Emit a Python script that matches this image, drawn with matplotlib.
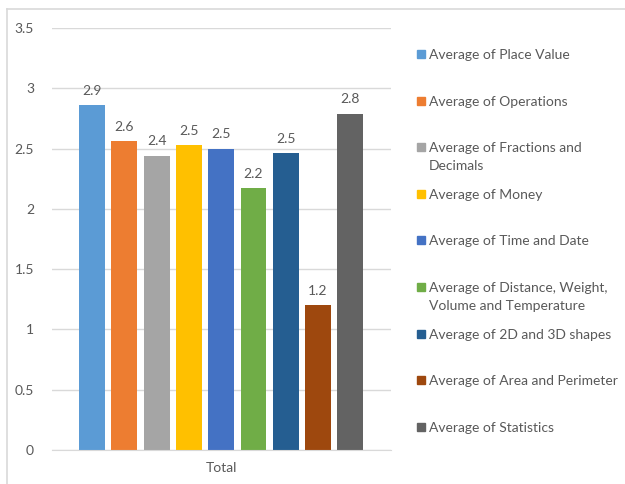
import matplotlib.pyplot as plt
from matplotlib.patches import Rectangle
from matplotlib.lines import Line2D

# values (one cluster, "Total")
series = ["Average of Place Value", "Average of Operations",
          "Average of Fractions and\nDecimals", "Average of Money",
          "Average of Time and Date",
          "Average of Distance, Weight,\nVolume and Temperature",
          "Average of 2D and 3D shapes", "Average of Area and Perimeter",
          "Average of Statistics"]
values = [2.86, 2.56, 2.44, 2.53, 2.50, 2.17, 2.46, 1.20, 2.79]
colors = ["#5b9bd5", "#ed7d31", "#a5a5a5", "#ffc000", "#4472c4",
          "#70ad47", "#255e91", "#9e480e", "#636363"]
category = "Total"

txt = "#595959"
plt.rcParams['font.family'] = ['Lato', 'DejaVu Sans']

W, H = 625, 484
fig = plt.figure(figsize=(W / 100, H / 100), dpi=100)

# outer chart border (top and left visible)
fig.add_artist(Line2D([7 / W, 7 / W], [0, 1 - 9 / H], transform=fig.transFigure,
                      color="#d9d9d9", lw=1.2))
fig.add_artist(Line2D([7 / W, 1], [1 - 9 / H, 1 - 9 / H], transform=fig.transFigure,
                      color="#d9d9d9", lw=1.2))

ax = fig.add_axes([52 / W, 1 - 450 / H, (391 - 52) / W, (450 - 28) / H])
x = list(range(len(values)))
bars = ax.bar(x, values, width=0.8, color=colors, zorder=3)
ax.bar_label(bars, labels=["%.1f" % v for v in values], padding=6,
             color=txt, fontsize=10)

ax.set_ylim(0, 3.5)
ax.set_xlim(-1.24, 9.26)
ax.set_yticks([0, 0.5, 1, 1.5, 2, 2.5, 3, 3.5])
ax.set_yticklabels(["0", "0.5", "1", "1.5", "2", "2.5", "3", "3.5"])
ax.set_xticks([4])
ax.set_xticklabels([category])
ax.tick_params(axis="y", length=0, pad=13, labelcolor=txt, labelsize=10)
ax.tick_params(axis="x", length=0, pad=9, labelcolor=txt, labelsize=10)
ax.grid(axis="y", color="#d9d9d9", lw=1, zorder=0)
for s in ["top", "right", "left"]:
    ax.spines[s].set_visible(False)
ax.spines["bottom"].set_color("#d9d9d9")
ax.spines["bottom"].set_zorder(4)

# legend, evenly spaced like Excel
y0 = 54
step = 46.6
for i, (name, c) in enumerate(zip(series, colors)):
    yy = y0 + i * step
    fig.add_artist(Rectangle((417 / W, 1 - (yy + 4) / H), 8 / W, 8 / H,
                             transform=fig.transFigure, color=c))
    fig.text(429 / W, 1 - (yy - 5) / H, name, color=txt, fontsize=10,
             va="top", ha="left", linespacing=1.55)

fig.savefig("out.png", dpi=100)
